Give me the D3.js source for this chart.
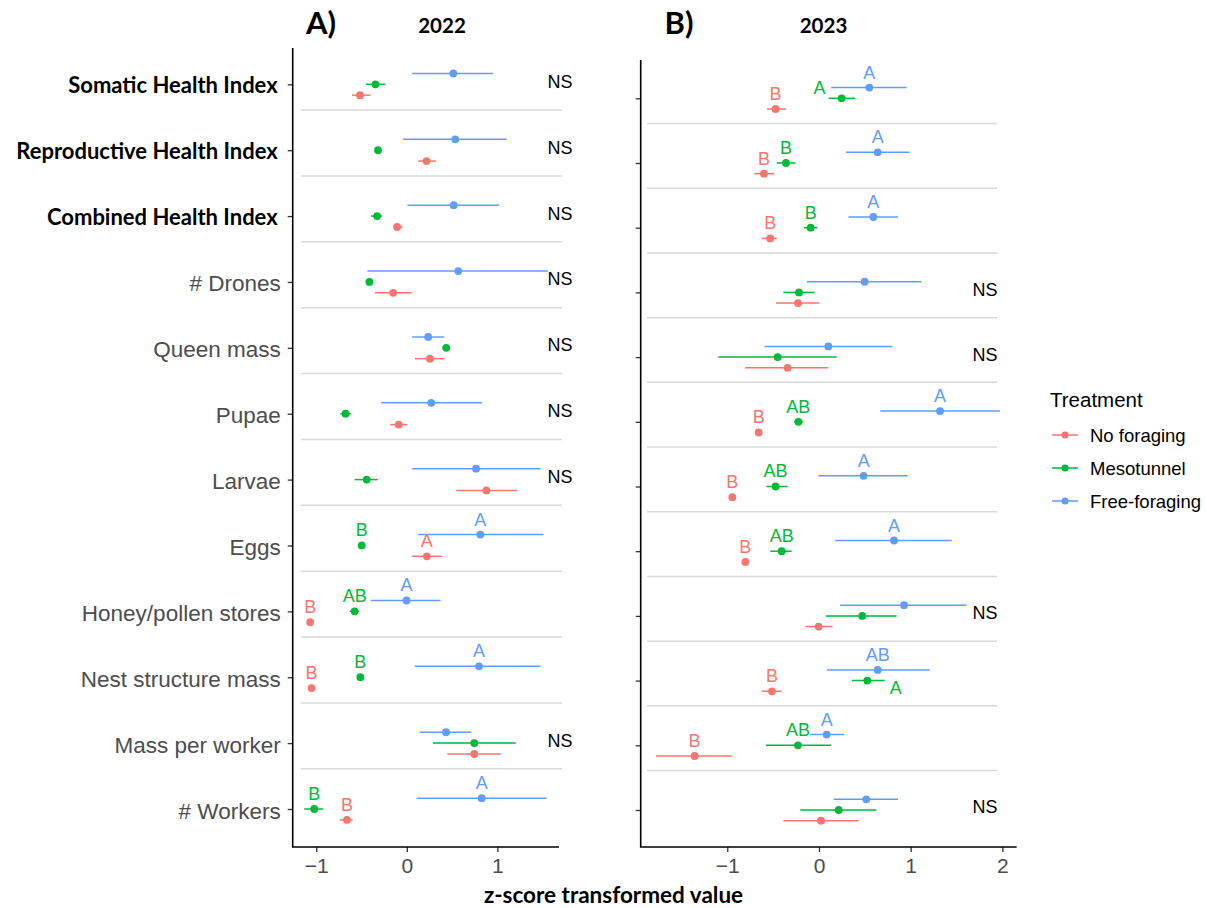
<!DOCTYPE html>
<html>
<head>
<meta charset="utf-8">
<script src="https://cdn.jsdelivr.net/npm/d3@7"></script>
<style>
  body { margin: 0; background: #fff; }
  svg { display: block; }
</style>
</head>
<body>
<svg id="chart" width="1207" height="908"></svg>
<script>
// ---------------- DATA ----------------
const categories = ["Somatic Health Index", "Reproductive Health Index", "Combined Health Index",
  "# Drones", "Queen mass", "Pupae", "Larvae", "Eggs", "Honey/pollen stores",
  "Nest structure mass", "Mass per worker", "# Workers"];
const boldCategories = ["Somatic Health Index", "Reproductive Health Index", "Combined Health Index"];
const treatments = ["No foraging", "Mesotunnel", "Free-foraging"];
const xTicksA = [-1, 0, 1];
const xTicksB = [-1, 0, 1, 2];

// 2022 (panel A)
const noForaging2022Mean = [-0.517, 0.218, -0.107, -0.151, 0.255, -0.089, 0.878, 0.221, -1.067, -1.052, 0.745, -0.661];
const noForaging2022Lo   = [-0.606, 0.125, -0.144, -0.351, 0.089, -0.185, 0.546, 0.055, -1.077, -1.062, 0.446, -0.742];
const noForaging2022Hi   = [-0.402, 0.321, -0.048, 0.055, 0.417, 0.007, 1.218, 0.388, -1.057, -1.042, 1.037, -0.598];
const meso2022Mean = [-0.347, -0.318, -0.329, -0.413, 0.435, -0.676, -0.443, -0.498, -0.576, -0.513, 0.745, -1.022];
const meso2022Lo   = [-0.450, -0.335, -0.395, -0.432, 0.420, -0.734, -0.576, -0.530, -0.631, -0.530, 0.288, -1.133];
const meso2022Hi   = [-0.236, -0.301, -0.273, -0.394, 0.450, -0.616, -0.321, -0.466, -0.528, -0.496, 1.203, -0.922];
const free2022Mean = [0.513, 0.535, 0.517, 0.568, 0.236, 0.269, 0.764, 0.812, -0.004, 0.797, 0.432, 0.827];
const free2022Lo   = [0.059, -0.041, 0.007, -0.435, 0.059, -0.284, 0.059, 0.125, -0.399, 0.089, 0.140, 0.107];
const free2022Hi   = [0.952, 1.104, 1.019, 1.558, 0.413, 0.831, 1.476, 1.510, 0.373, 1.476, 0.712, 1.543];

// 2023 (panel B)
const noForaging2023Mean = [-0.473, -0.600, -0.531, -0.229, -0.342, -0.658, -0.945, -0.803, -0.004, -0.513, -1.356, 0.022];
const noForaging2023Lo   = [-0.567, -0.705, -0.622, -0.469, -0.807, -0.668, -0.955, -0.813, -0.149, -0.625, -1.778, -0.389];
const noForaging2023Hi   = [-0.360, -0.487, -0.458, 0.004, 0.102, -0.648, -0.935, -0.793, 0.149, -0.407, -0.945, 0.433];
const meso2023Mean = [0.247, -0.360, -0.091, -0.218, -0.451, -0.225, -0.473, -0.407, 0.473, 0.527, -0.229, 0.215];
const meso2023Lo   = [0.105, -0.462, -0.164, -0.389, -1.098, -0.270, -0.574, -0.531, 0.073, 0.360, -0.578, -0.204];
const meso2023Hi   = [0.396, -0.255, -0.018, -0.047, 0.193, -0.170, -0.342, -0.298, 0.847, 0.716, 0.134, 0.625];
const free2023Mean = [0.549, 0.640, 0.593, 0.498, 0.102, 1.320, 0.487, 0.818, 0.927, 0.640, 0.084, 0.516];
const free2023Lo   = [0.134, 0.294, 0.323, -0.131, -0.592, 0.669, -0.007, 0.178, 0.229, 0.087, -0.098, 0.160];
const free2023Hi   = [0.956, 0.989, 0.862, 1.120, 0.800, 1.974, 0.967, 1.447, 1.611, 1.210, 0.273, 0.862];

// significance letters ("" = none)
const noForaging2022Letters = ["", "", "", "", "", "", "", "A", "B", "B", "", "B"];
const meso2022Letters       = ["", "", "", "", "", "", "", "B", "AB", "B", "", "B"];
const free2022Letters       = ["", "", "", "", "", "", "", "A", "A", "A", "", "A"];
const noForaging2023Letters = ["B", "B", "B", "", "", "B", "B", "B", "", "B", "B", ""];
const meso2023Letters       = ["A", "B", "B", "", "", "AB", "AB", "AB", "", "A", "AB", ""];
const free2023Letters       = ["A", "A", "A", "", "", "A", "A", "A", "", "AB", "A", ""];
// letters placed beside the point instead of above it
const meso2023LetterSide    = ["left", "", "", "", "", "", "", "", "", "right", "", ""];
const ns2022 = ["Somatic Health Index", "Reproductive Health Index", "Combined Health Index", "# Drones",
  "Queen mass", "Pupae", "Larvae", "Mass per worker"];
const ns2023 = ["# Drones", "Queen mass", "Honey/pollen stores", "# Workers"];

const colors = ["#F8766D", "#00BA38", "#619CFF"];

// ---------------- BUILD ----------------
function build(means, los, his, letters, sides) {
  const rows = [];
  treatments.forEach((t, ti) => {
    categories.forEach((c, ci) => {
      rows.push({ cat: c, t: ti, mean: means[ti][ci], lo: los[ti][ci], hi: his[ti][ci],
        letter: letters[ti][ci], side: sides ? (sides[ti] ? sides[ti][ci] : "") : "" });
    });
  });
  return rows;
}
const dataA = build([noForaging2022Mean, meso2022Mean, free2022Mean],
  [noForaging2022Lo, meso2022Lo, free2022Lo], [noForaging2022Hi, meso2022Hi, free2022Hi],
  [noForaging2022Letters, meso2022Letters, free2022Letters], null);
const dataB = build([noForaging2023Mean, meso2023Mean, free2023Mean],
  [noForaging2023Lo, meso2023Lo, free2023Lo], [noForaging2023Hi, meso2023Hi, free2023Hi],
  [noForaging2023Letters, meso2023Letters, free2023Letters], [null, meso2023LetterSide, null]);

const svg = d3.select("#chart");
const sansFont = "'Liberation Sans', Arial, sans-serif";
const boldFont = "Lato, 'Open Sans', sans-serif";

function panel(opts) {
  const { data, xDomain, xRange, yRange, axisTop, ticks, ns, nsX, sepX, showLabels, tag, tagX, year, yearX } = opts;
  const x = d3.scaleLinear().domain(xDomain).range(xRange);
  const y = d3.scalePoint().domain(categories).range(yRange);
  const step = y.step();
  const dodge = step * 0.165;
  const bottom = 847;
  const g = svg.append("g");

  // separators
  g.append("g").selectAll("line").data(categories.slice(0, -1)).join("line")
    .attr("x1", sepX[0]).attr("x2", sepX[1])
    .attr("y1", d => y(d) + step * 0.39).attr("y2", d => y(d) + step * 0.39)
    .attr("stroke", "#D9D9D9").attr("stroke-width", 1.5);

  // y axis
  const yAxis = d3.axisLeft(y).tickSize(5).tickSizeOuter(0).tickPadding(7)
    .tickFormat(showLabels ? (d => d) : "");
  const ya = g.append("g").attr("transform", `translate(${xRange[0]},0)`).call(yAxis);
  ya.select(".domain").remove();
  ya.selectAll(".tick line").attr("stroke", "#333").attr("stroke-width", 1.3);
  ya.selectAll(".tick text")
    .attr("fill", d => boldCategories.includes(d) ? "#000" : "#4D4D4D")
    .attr("font-family", d => boldCategories.includes(d) ? boldFont : sansFont)
    .attr("font-weight", d => boldCategories.includes(d) ? "bold" : "normal")
    .attr("font-size", d => boldCategories.includes(d) ? "22px" : "22.5px")
    .attr("x", d => boldCategories.includes(d) ? -15 : -12)
    .attr("dy", d => boldCategories.includes(d) ? "0.38em" : "0.4em");

  // x axis
  const xAxis = d3.axisBottom(x).tickValues(ticks).tickSize(5).tickSizeOuter(0).tickPadding(6)
    .tickFormat(d3.format("d"));
  const xa = g.append("g").attr("transform", `translate(0,${bottom})`).call(xAxis);
  xa.select(".domain").remove();
  xa.selectAll(".tick line").attr("stroke", "#333").attr("stroke-width", 1.3);
  xa.selectAll(".tick text").attr("fill", "#4D4D4D").attr("font-family", sansFont).attr("font-size", "21px");

  // axis lines
  g.append("path")
    .attr("d", `M${xRange[0]},${axisTop}V${bottom}H${xRange[1]}`)
    .attr("fill", "none").attr("stroke", "#000").attr("stroke-width", 1.6);

  const yy = d => y(d.cat) + (1 - d.t) * dodge;

  // error bars
  g.append("g").selectAll("line").data(data).join("line")
    .attr("x1", d => x(d.lo)).attr("x2", d => x(d.hi))
    .attr("y1", yy).attr("y2", yy)
    .attr("stroke", d => colors[d.t]).attr("stroke-width", 1.5);
  // points
  g.append("g").selectAll("circle").data(data).join("circle")
    .attr("cx", d => x(d.mean)).attr("cy", yy).attr("r", 3.9)
    .attr("fill", d => colors[d.t]);

  // letters
  g.append("g").selectAll("text").data(data.filter(d => d.letter)).join("text")
    .attr("x", d => d.side === "left" ? x(d.lo) - 3 : d.side === "right" ? x(d.hi) + 5 : x(d.mean))
    .attr("y", d => d.side === "left" ? yy(d) - 11 : d.side === "right" ? yy(d) + 7 : yy(d) - 15.5)
    .attr("dy", "0.36em")
    .attr("text-anchor", d => d.side === "left" ? "end" : d.side === "right" ? "start" : "middle")
    .attr("font-family", sansFont).attr("font-size", "18px")
    .attr("fill", d => colors[d.t]).text(d => d.letter);

  // NS labels
  g.append("g").selectAll("text").data(ns).join("text")
    .attr("x", x(nsX)).attr("y", d => y(d) - 3).attr("dy", "0.36em")
    .attr("text-anchor", "middle").attr("font-family", sansFont).attr("font-size", "18px")
    .attr("fill", "#000").text("NS");

  // titles
  svg.append("text").attr("x", tagX).attr("y", 34).attr("text-anchor", "middle")
    .attr("font-family", boldFont).attr("font-weight", "bold").attr("font-size", "31px").text(tag);
  svg.append("text").attr("x", yearX).attr("y", 33).attr("text-anchor", "middle")
    .attr("font-family", boldFont).attr("font-weight", "bold").attr("font-size", "20.5px").text(year);
}

panel({ data: dataA, xDomain: [-1.26, 1.68], xRange: [292.7, 559], yRange: [84.3, 809], axisTop: 48,
  ticks: xTicksA, ns: ns2022, nsX: 1.69, sepX: [301, 562], showLabels: true,
  tag: "A)", tagX: 321, year: "2022", yearX: 442 });
panel({ data: dataB, xDomain: [-1.944, 2.156], xRange: [640.7, 1016.7], yRange: [98.3, 810], axisTop: 60,
  ticks: xTicksB, ns: ns2023, nsX: 1.81, sepX: [647, 997], showLabels: false,
  tag: "B)", tagX: 679, year: "2023", yearX: 823.5 });

// x axis title
svg.append("text").attr("x", 613.5).attr("y", 903).attr("text-anchor", "middle")
  .attr("font-family", boldFont).attr("font-weight", "bold").attr("font-size", "22.5px")
  .text("z-score transformed value");

// legend
const lg = svg.append("g");
lg.append("text").attr("x", 1050).attr("y", 407).attr("font-family", sansFont).attr("font-size", "20.5px")
  .attr("fill", "#000").text("Treatment");
const items = lg.selectAll("g.item").data(treatments).join("g").attr("class", "item")
  .attr("transform", (d, i) => `translate(0,${435 + i * 33})`);
items.append("line").attr("x1", 1052).attr("x2", 1078).attr("y1", 0).attr("y2", 0)
  .attr("stroke", (d, i) => colors[i]).attr("stroke-width", 1.5);
items.append("circle").attr("cx", 1065).attr("cy", 0).attr("r", 3.6).attr("fill", (d, i) => colors[i]);
items.append("text").attr("x", 1090).attr("y", 0).attr("dy", "0.36em")
  .attr("font-family", sansFont).attr("font-size", "18.5px").attr("fill", "#000").text(d => d);
</script>
</body>
</html>
